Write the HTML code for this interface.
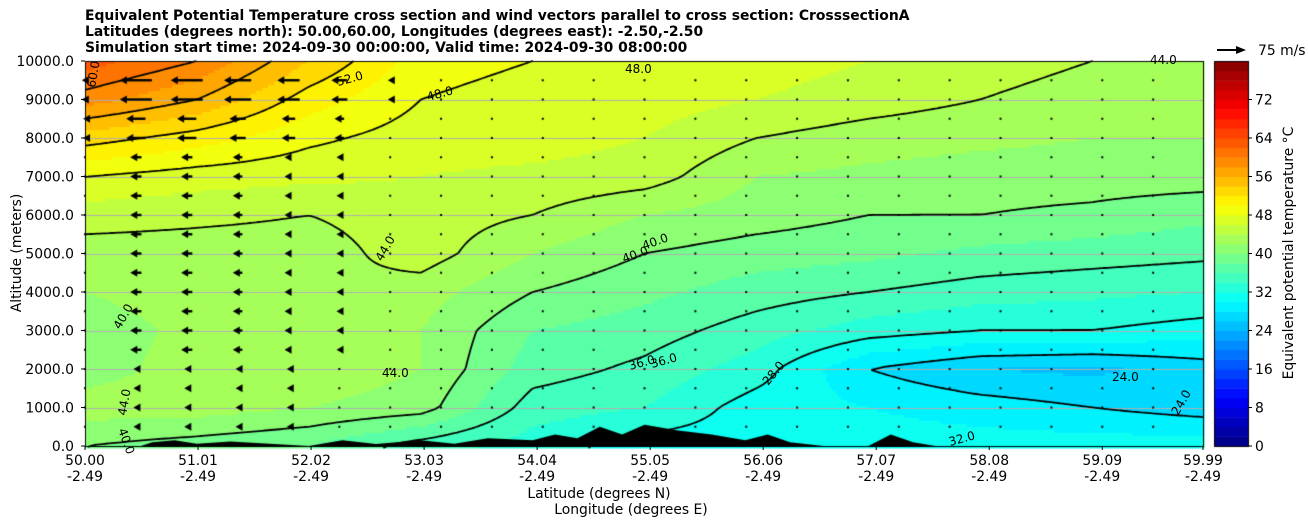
<!DOCTYPE html>
<html><head><meta charset="utf-8"><style>
body{margin:0;background:#fff;font-family:"DejaVu Sans",sans-serif;}
#wrap{position:relative;width:1308px;height:526px;overflow:hidden;}
.t{position:absolute;font-size:13.9px;white-space:nowrap;color:#000;}
</style></head><body>
<div id="wrap">
<div class="t" style="left:85px;top:8px;font-weight:bold;line-height:16px;">Equivalent Potential Temperature cross section and wind vectors parallel to cross section: CrosssectionA<br>Latitudes (degrees north): 50.00,60.00, Longitudes (degrees east): -2.50,-2.50<br>Simulation start time: 2024-09-30 00:00:00, Valid time: 2024-09-30 08:00:00</div>
<canvas id="cv" width="1308" height="526" style="position:absolute;left:0;top:0"></canvas>
<svg id="sv" width="1308" height="526" style="position:absolute;left:0;top:0" font-family="DejaVu Sans, sans-serif"></svg>
</div>
<script>
const lats=[50,51,52,53,54,55,56,57,58,59,60];
const alts=[0,1000,2000,3000,4000,5000,6000,7000,8000,9000,10000];
const theta=[
[40,39,38,35,33,31,31,31,31,31,31],
[43,43,42,41,35,34,31,30,29,28,27],
[41,43,43.5,42,37,35.5,33,28,26,25.5,27],
[41,42.5,43.5,42,38,37,35,33,32,32,31],
[42,43,44,43,40,38.5,37,36,35,34.5,34],
[43,43,43,45,42,40,39,38.5,37.5,37,36.5],
[45,44.5,44,45,44,42,41,40,40,39.5,38.5],
[48,47,46.5,46,45.5,45,42,41.5,41,41,41],
[53,51,48.5,47,47,46,44,43,42.5,42,42],
[59,56,51,48,47,47,46,45,44,43,43],
[63,60,54,49,48,47.5,47,46,45,44,44]];
const terrainLat=[50,50.5,50.6,50.8,51,51.3,52,52.3,52.6,53,53.3,53.6,54,54.2,54.4,54.6,54.8,55,55.3,55.6,55.9,56.1,56.3,56.6,57,57.2,57.4,57.6,58,59,60];
const terrainH=[0,0,100,150,60,120,0,150,50,150,60,200,150,300,200,500,300,550,400,300,150,300,100,0,0,300,100,0,0,0,0];
const windLatTop=[50,50.45,50.9,51.35,51.8,52.25,52.7,53.15];
const windU=[-4,-20,-20,-17,-14,-10,-3,-1];
const levels=[24,28,32,36,40,44,48,52,56,60];
const cbTicks=[0,8,16,24,32,40,48,56,64,72];
const xTicks=[50.00,51.01,52.02,53.03,54.04,55.05,56.06,57.07,58.08,59.09,59.99];
const yTicks=[0,1000,2000,3000,4000,5000,6000,7000,8000,9000,10000];

const X0=85,X1=1203,Y0=61,Y1=446;
const sx=l=>X0+(l-50)/(59.99-50)*(X1-X0);
const sy=a=>Y1-a/10000*(Y1-Y0);
function val(lat,alt){
 let fi=Math.min(Math.max(lat-50,0),9.999),fj=Math.min(Math.max(alt/1000,0),9.999);
 let i=Math.floor(fi),j=Math.floor(fj),u=fi-i,v=fj-j;
 return theta[j][i]*(1-u)*(1-v)+theta[j][i+1]*u*(1-v)+theta[j+1][i]*(1-u)*v+theta[j+1][i+1]*u*v;
}
function jet(t){const c=x=>Math.round(255*Math.min(1,Math.max(0,x)));return `rgb(${c(1.5-Math.abs(4*t-3))},${c(1.5-Math.abs(4*t-2))},${c(1.5-Math.abs(4*t-1))})`;}
const bandColor=v=>{let b=Math.floor(v/2)*2;return jet((b+1)/80);};
const ctx=document.getElementById('cv').getContext('2d');
const S=3, nx=Math.ceil((X1-X0)/S), ny=Math.ceil((Y1-Y0)/S);
const inv=(px,py)=>[50+(px-X0)/(X1-X0)*9.99,(Y1-py)/(Y1-Y0)*10000];
const G=[];
for(let j=0;j<=ny;j++){G.push([]);for(let i=0;i<=nx;i++){const [la,al]=inv(X0+i*S,Y0+j*S);G[j].push(val(la,al));}}
for(let j=0;j<ny;j++)for(let i=0;i<nx;i++){const [la,al]=inv(X0+i*S+S/2,Y0+j*S+S/2);ctx.fillStyle=bandColor(val(la,al));ctx.fillRect(X0+i*S,Y0+j*S,S+0.5,S+0.5);}
ctx.strokeStyle='#b0b0b0';ctx.lineWidth=1;
yTicks.forEach(a=>{ctx.beginPath();ctx.moveTo(X0,Math.round(sy(a))+0.5);ctx.lineTo(X1,Math.round(sy(a))+0.5);ctx.stroke();});
ctx.strokeStyle='#000';ctx.lineWidth=1.8;
levels.forEach(L=>{ctx.beginPath();
 for(let j=0;j<ny;j++)for(let i=0;i<nx;i++){
  const c=[[i,j,G[j][i]],[i+1,j,G[j][i+1]],[i+1,j+1,G[j+1][i+1]],[i,j+1,G[j+1][i]]];
  const pts=[];
  for(let k=0;k<4;k++){const a=c[k],b=c[(k+1)%4];if((a[2]-L)*(b[2]-L)<0){const t=(L-a[2])/(b[2]-a[2]);pts.push([X0+(a[0]+t*(b[0]-a[0]))*S,Y0+(a[1]+t*(b[1]-a[1]))*S]);}}
  for(let k=0;k+1<pts.length;k+=2){ctx.moveTo(pts[k][0],pts[k][1]);ctx.lineTo(pts[k+1][0],pts[k+1][1]);}
 }ctx.stroke();});
ctx.fillStyle='#000';ctx.beginPath();ctx.moveTo(sx(terrainLat[0]),Y1);
terrainLat.forEach((l,k)=>ctx.lineTo(sx(l),sy(terrainH[k])));ctx.lineTo(X1,Y1);ctx.closePath();ctx.fill();
for(let k=0;k<22;k++){const lat=50+k*0.4545, x=sx(lat);
 for(let a=500;a<10000;a+=500){const y=sy(a);
  let u=0;for(let m=0;m<windLatTop.length;m++)if(Math.abs(windLatTop[m]-lat)<0.2)u=windU[m];
  const f=a<2500?0.15:a<8000?0.35:a<8600?0.6:1;
  const len=Math.abs(u)*f*1.6;
  ctx.fillStyle='#000';
  if(len<3){ctx.fillRect(x-1,y-1,2,2);continue;}
  if(len>8)ctx.fillRect(x-len/2+5,y-1.2,len-5,2.4);
  ctx.beginPath();ctx.moveTo(x-len/2,y);ctx.lineTo(x-len/2+7,y-4);ctx.lineTo(x-len/2+7,y+4);ctx.closePath();ctx.fill();
 }}
const CX=1214,CW=34;
for(let b=0;b<80;b+=2){ctx.fillStyle=jet((b+1)/80);const ya=Y1-(b+2)/80*(Y1-Y0),yb=Y1-b/80*(Y1-Y0);ctx.fillRect(CX,ya,CW,yb-ya+0.5);}
ctx.strokeStyle='#000';ctx.lineWidth=1;ctx.strokeRect(CX+0.5,Y0+0.5,CW,Y1-Y0);
ctx.strokeRect(X0+0.5,Y0+0.5,X1-X0,Y1-Y0);
const sv=document.getElementById('sv'),NS='http://www.w3.org/2000/svg';
function txt(x,y,s,anchor,name,size,rot){const t=document.createElementNS(NS,'text');t.setAttribute('x',x);t.setAttribute('y',y);t.setAttribute('font-size',size||13.9);t.setAttribute('text-anchor',anchor||'start');if(rot)t.setAttribute('transform',`rotate(${rot} ${x} ${y})`);t.textContent=s;


sv.appendChild(t);return t;}
function ln(x1,y1,x2,y2){const l=document.createElementNS(NS,'line');l.setAttribute('x1',x1);l.setAttribute('y1',y1);l.setAttribute('x2',x2);l.setAttribute('y2',y2);l.setAttribute('stroke','#000');


sv.appendChild(l);}
yTicks.forEach(a=>{const y=sy(a);ln(X0-4,y,X0,y);txt(X0-11,y+5,a.toFixed(1),'end','y-tick-label');});
xTicks.forEach(l=>{const x=sx(l);ln(x,Y1,x,Y1+4);txt(x,Y1+19,l.toFixed(2),'middle','x-tick-label');txt(x,Y1+35,'-2.49','middle','x-tick-label-lon');});
cbTicks.forEach(v=>{const y=Y1-v/80*(Y1-Y0);ln(CX+CW,y,CX+CW+4,y);txt(CX+CW+7,y+5,String(v),'start','colorbar-tick-label');});
txt(599,498,'Latitude (degrees N)','middle','x-axis-title');
txt(631,514,'Longitude (degrees E)','middle','x-axis-title-lon');
txt(21,253,'Altitude (meters)','middle','y-axis-title',13.9,-90);
txt(1293,253,'Equivalent potential temperature °C','middle','colorbar-title',13.9,-90);
txt(1258,55,'75 m/s','start','quiver-key-label',13.9);
const ar=document.createElementNS(NS,'path');ar.setAttribute('d','M1217 49 L1236 49 L1236 46 L1246 50 L1236 54 L1236 51 L1217 51 Z');


sv.appendChild(ar);
[[428,101,'48.0',-15],[338,86,'52.0',-15],[625,73,'48.0',0],[1150,64,'44.0',0],[95,88,'60.0',-80],[382,262,'44.0',-60],[624,263,'40.0',-20],[644,250,'40.0',-20],[630,370,'36.0',-15],[652,368,'36.0',-15],[768,386,'28.0',-50],[382,377,'44.0',0],[1112,381,'24.0',0],[1178,416,'24.0',-60],[120,330,'40.0',-60],[126,416,'44.0',-80],[118,430,'40.0',70],[950,446,'32.0',-15]].forEach(d=>{txt(d[0],d[1],d[2],'start','contour-label',12,d[3]);});
</script>
</body></html>
